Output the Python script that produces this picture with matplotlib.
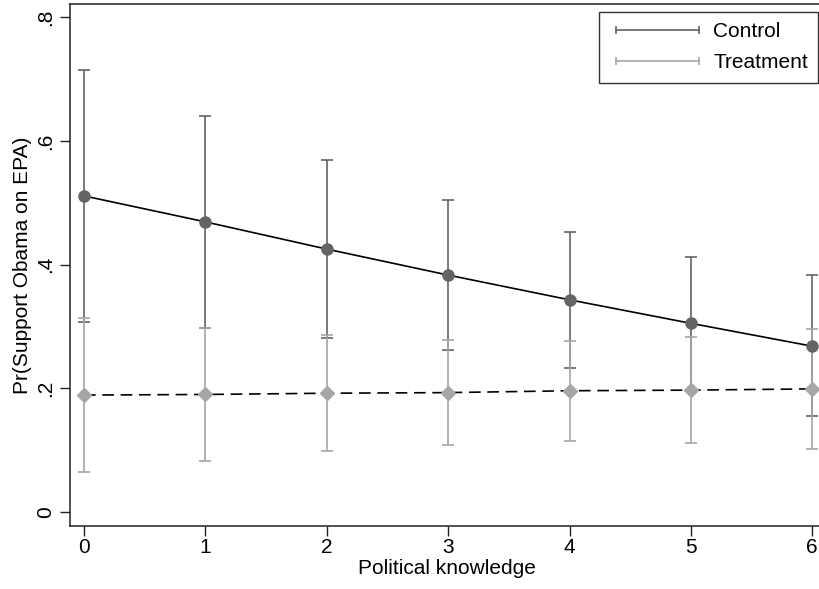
import matplotlib.pyplot as plt
from matplotlib.lines import Line2D

plt.rcParams['font.family'] = ['Liberation Sans', 'DejaVu Sans']

# Predicted probabilities
knowledge = [0, 1, 2, 3, 4, 5, 6]

control = [0.511, 0.469, 0.425, 0.383, 0.343, 0.305, 0.268]
control_hi = [0.715, 0.640, 0.569, 0.505, 0.452, 0.413, 0.383]
control_lo = [0.307, 0.298, 0.281, 0.262, 0.233, 0.197, 0.155]

treatment = [0.189, 0.190, 0.192, 0.193, 0.196, 0.197, 0.199]
treatment_hi = [0.314, 0.297, 0.286, 0.278, 0.277, 0.283, 0.296]
treatment_lo = [0.064, 0.083, 0.099, 0.109, 0.114, 0.112, 0.102]

yticks = [0, 0.2, 0.4, 0.6, 0.8]
ytick_labels = ['0', '.2', '.4', '.6', '.8']

dark = '#646464'
light = '#a6a6a6'

fig = plt.figure(figsize=(8.2, 5.89), dpi=100)
ax = fig.add_axes([0.0854, 0.107, 0.92, 0.886])

# Confidence intervals
for mid, lo, hi, col in [(control, control_lo, control_hi, dark),
                         (treatment, treatment_lo, treatment_hi, light)]:
    err = [[m - l for m, l in zip(mid, lo)], [h - m for m, h in zip(mid, hi)]]
    ax.errorbar(knowledge, mid, yerr=err, fmt='none', ecolor=col,
                elinewidth=1.2, capsize=4, capthick=1.2, zorder=2)

# Connecting lines
ax.plot(knowledge, control, color='black', lw=1.2, zorder=3)
ax.plot(knowledge, treatment, color='black', lw=1.2, dashes=(7, 4), zorder=3)

# Markers
ax.plot(knowledge, control, 'o', color=dark, ms=8, zorder=4, clip_on=False)
ax.plot(knowledge, treatment, 'D', color=light, ms=7, zorder=4, clip_on=False)

ax.set_xlim(-0.115, 6.1)
ax.set_ylim(-0.0226, 0.821)
ax.set_xticks(knowledge)
ax.set_yticks(yticks)
ax.set_yticklabels(ytick_labels)
ax.tick_params(axis='both', labelsize=15, length=7, width=1, color='#222222')
ax.tick_params(axis='x', pad=2)
ax.tick_params(axis='y', labelrotation=90, pad=4)
for lab in ax.get_yticklabels():
    lab.set_va('center')
ax.spines['right'].set_visible(False)
for s in ax.spines.values():
    s.set_linewidth(1.1)
    s.set_color('#222222')

ax.set_xlabel('Political knowledge', fontsize=15, labelpad=1)
ax.set_ylabel('Pr(Support Obama on EPA)', fontsize=15, labelpad=3)

handles = [Line2D([], [], color=dark, lw=1.2, marker='|', ms=6, mew=1.2),
           Line2D([], [], color=light, lw=1.2, marker='|', ms=6, mew=1.2)]
leg = fig.legend(handles, ['Control', 'Treatment'], loc='upper right',
                 numpoints=2, handlelength=4.6, fontsize=15, fancybox=False,
                 edgecolor='#333333', framealpha=1, borderpad=0.5,
                 labelspacing=0.6, handletextpad=0.38, borderaxespad=0,
                 bbox_to_anchor=(818.5 / 820, 1 - 11.5 / 589))
leg.get_frame().set_linewidth(1)

fig.savefig('out.png', dpi=100)
